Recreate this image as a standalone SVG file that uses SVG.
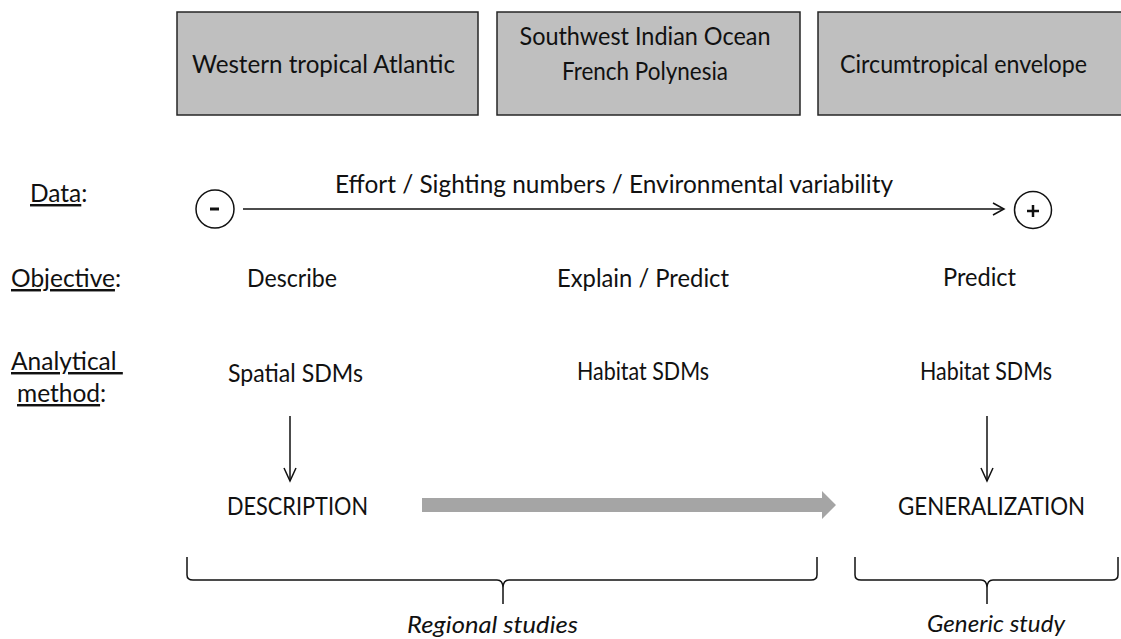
<svg xmlns="http://www.w3.org/2000/svg" width="1121" height="639" viewBox="0 0 1121 639">
  <style>
    text { font-family: Lato, "Liberation Sans", Arial, sans-serif; font-size: 24.5px; fill: #111; }
    .it { font-style: italic; font-size: 23px; }
    .box { fill: #bfbfbf; stroke: #262626; stroke-width: 1.5; }
    .ln { fill: none; stroke: #111; stroke-width: 1.5; }
    .ul { text-decoration: underline; }
  </style>
  <rect width="1121" height="639" fill="#fff"/>

  <g id="box-wta">
    <rect class="box" x="177" y="12" width="301" height="103"/>
    <text x="192" y="73" textLength="263" lengthAdjust="spacingAndGlyphs">Western tropical Atlantic</text>
  </g>
  <g id="box-swio">
    <rect class="box" x="497" y="12" width="303" height="103"/>
    <text x="645" y="45" text-anchor="middle" textLength="251" lengthAdjust="spacingAndGlyphs">Southwest Indian Ocean</text>
    <text x="645" y="80" text-anchor="middle" textLength="166" lengthAdjust="spacingAndGlyphs">French Polynesia</text>
  </g>
  <g id="box-circ">
    <rect class="box" x="818" y="12" width="310" height="103"/>
    <text x="840" y="73" textLength="247" lengthAdjust="spacingAndGlyphs">Circumtropical envelope</text>
  </g>

  <g id="labels">
    <text x="30" y="202"><tspan class="ul">Data</tspan>:</text>
    <text x="11" y="287"><tspan class="ul">Objective</tspan>:</text>
    <text x="11" y="370" xml:space="preserve"><tspan class="ul">Analytical </tspan></text>
    <text x="17" y="402"><tspan class="ul">method</tspan>:</text>
  </g>

  <g id="data-axis">
    <circle class="ln" cx="215" cy="209" r="19"/>
    <line x1="210" y1="209" x2="219" y2="209" stroke="#111" stroke-width="3"/>
    <circle class="ln" cx="1033" cy="210" r="18.5"/>
    <line x1="1027" y1="211" x2="1039" y2="211" stroke="#111" stroke-width="2.5"/>
    <line x1="1033" y1="205" x2="1033" y2="217" stroke="#111" stroke-width="2.5"/>
    <text x="335" y="193" textLength="558" lengthAdjust="spacingAndGlyphs">Effort / Sighting numbers / Environmental variability</text>
  </g>

  <g id="objective">
    <text x="247" y="287" textLength="90" lengthAdjust="spacingAndGlyphs">Describe</text>
    <text x="557" y="287" textLength="172" lengthAdjust="spacingAndGlyphs">Explain / Predict</text>
    <text x="943" y="286" textLength="73" lengthAdjust="spacingAndGlyphs">Predict</text>
  </g>

  <g id="method">
    <text x="228" y="382" textLength="135" lengthAdjust="spacingAndGlyphs">Spatial SDMs</text>
    <text x="577" y="380" textLength="132" lengthAdjust="spacingAndGlyphs">Habitat SDMs</text>
    <text x="920" y="380" textLength="132" lengthAdjust="spacingAndGlyphs">Habitat SDMs</text>
  </g>

  <g id="description">
    <text x="227" y="515" textLength="141" lengthAdjust="spacingAndGlyphs">DESCRIPTION</text>
  </g>
  <g id="generalization">
    <text x="898" y="515" textLength="187" lengthAdjust="spacingAndGlyphs">GENERALIZATION</text>
  </g>

  <g id="connectors">
    <line class="ln" x1="243" y1="209" x2="1004" y2="209"/>
    <polyline class="ln" points="993,203 1004,209 993,215"/>
    <line class="ln" x1="290" y1="416" x2="290" y2="481"/>
    <polyline class="ln" points="284,468 290,481 296,468"/>
    <line class="ln" x1="987" y1="416" x2="987" y2="481"/>
    <polyline class="ln" points="981,468 987,481 993,468"/>
    <polygon points="422,498 822,498 822,491 836,505 822,519 822,512 422,512" fill="#a5a5a5"/>
  </g>

  <g id="regional">
    <path class="ln" d="M187,557 L187,575 Q187,580 193,580 L497,580 Q503,580 503,588 L503,604 M503,588 Q503,580 509,580 L811,580 Q817,580 817,575 L817,557"/>
    <text class="it" x="407" y="633" textLength="171" lengthAdjust="spacingAndGlyphs">Regional studies</text>
  </g>
  <g id="generic">
    <path class="ln" d="M855,557 L855,575 Q855,580 861,580 L981,580 Q987,580 987,588 L987,604 M987,588 Q987,580 993,580 L1112,580 Q1118,580 1118,575 L1118,557"/>
    <text class="it" x="927" y="632" textLength="138" lengthAdjust="spacingAndGlyphs">Generic study</text>
  </g>
</svg>
